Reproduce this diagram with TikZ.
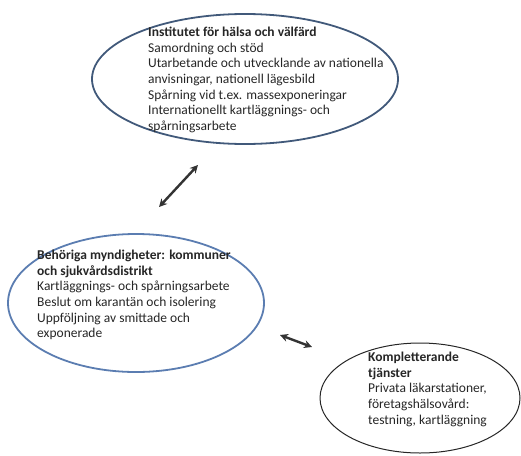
\documentclass[tikz,border=0pt]{standalone}
\usepackage{fontspec}
\setmainfont{Carlito}
\usetikzlibrary{shapes.geometric}
\usetikzlibrary{arrows.meta}
\definecolor{ringA}{HTML}{41597A}
\definecolor{ringB}{HTML}{5B7DB1}
\definecolor{txt}{HTML}{262626}

\begin{document}
\begin{tikzpicture}
  [x=1pt,y=-1pt,
   ring/.style={ellipse,draw,inner sep=0pt},
   txtbox/.style={anchor=north west,inner sep=0pt,align=left,text=txt,
     font=\fontsize{13.5}{15.6}\selectfont},
   link/.style={line width=2.4pt,draw=black!80,
     {Stealth[length=8pt,width=8pt]}-{Stealth[length=8pt,width=8pt]}}]
  \useasboundingbox (0,0) rectangle (521,455);

  \node[ring,draw=ringA,line width=1.8pt,minimum width=306pt,minimum height=130pt] (inst) at (245,79) {};
  \node[ring,draw=ringB,line width=1.8pt,minimum width=256pt,minimum height=138pt] (beh) at (136,303) {};
  \node[ring,draw=black!85,line width=1pt,minimum width=200pt,minimum height=110pt] (komp) at (420,398) {};

  \node[txtbox] (tinst) at (148,27) {\textbf{Institutet för hälsa och välfärd}\\Samordning och stöd\\Utarbetande och utvecklande av nationella\\anvisningar, nationell lägesbild\\Spårning vid t.ex. massexponeringar\\Internationellt kartläggnings- och\\spårningsarbete};
  \node[txtbox] (tbeh) at (37,250) {\textbf{Behöriga myndigheter: kommuner}\\\textbf{och sjukvårdsdistrikt}\\Kartläggnings- och spårningsarbete\\Beslut om karantän och isolering\\Uppföljning av smittade och\\exponerade};
  \node[txtbox] (tkomp) at (368,352) {\textbf{Kompletterande}\\\textbf{tjänster}\\Privata läkarstationer,\\företagshälsovård:\\testning, kartläggning};

  \coordinate (a1) at (159,207);
  \coordinate (b1) at (198,165);
  \coordinate (a2) at (280,335);
  \coordinate (b2) at (312,347);

  \foreach \from/\to in {a1/b1,a2/b2}
    \draw[link] (\from) -- (\to);
\end{tikzpicture}
\end{document}
